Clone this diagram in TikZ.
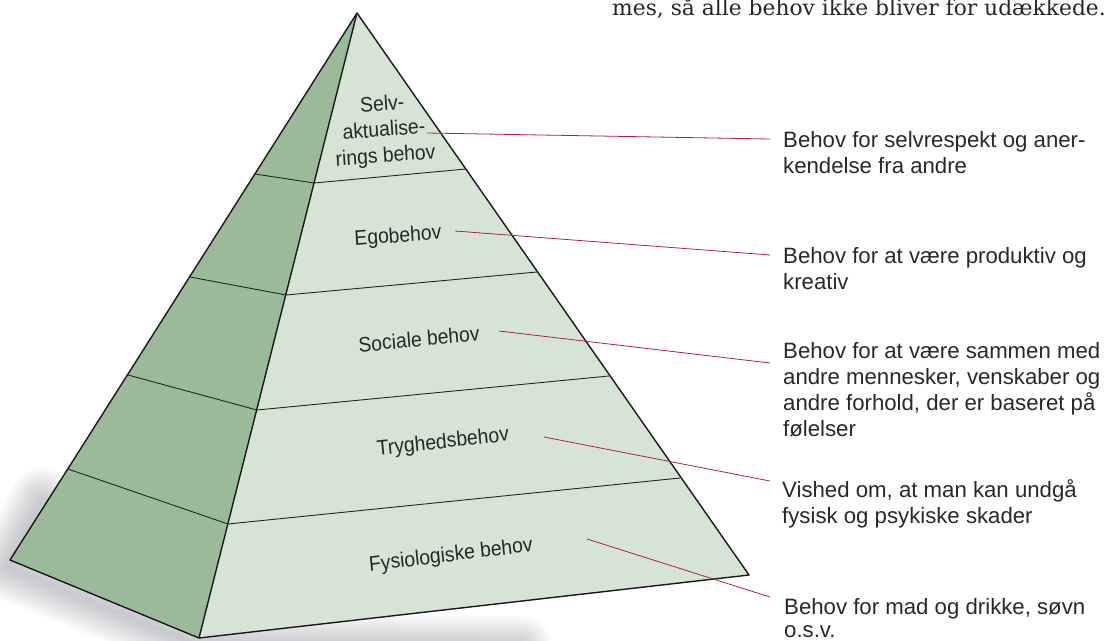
\documentclass[tikz,border=0pt]{standalone}
\usepackage{fontspec}
\setmainfont{DejaVu Serif}
\newfontfamily\labelfont{Liberation Sans}
\definecolor{sideface}{RGB}{155,186,153}
\definecolor{frontface}{RGB}{214,228,213}
\definecolor{leadred}{RGB}{178,32,60}
\definecolor{txt}{RGB}{40,40,40}
\definecolor{shadowcol}{RGB}{110,112,122}

\begin{document}
\begin{tikzpicture}[x=1pt,y=-1pt,
  edge/.style={draw=black!90, line width=1.4pt, line join=round},
  tier/.style={draw=black!85, line width=0.9pt},
  lead/.style={draw=leadred, line width=0.8pt},
  tierlabel/.style={font=\labelfont\fontsize{21}{26}\selectfont, text=txt,
    align=center, inner sep=0pt, xscale=0.92},
  % anchored at the baseline of the last line
  note/.style={font=\labelfont\fontsize{22.2}{26}\selectfont, text=txt,
    align=left, anchor=base west, inner sep=0pt},
]
\clip (0,0) rectangle (1113,640);

% corners of the pyramid
\coordinate (A) at (357,13);
\coordinate (L) at (10,560);
\coordinate (M) at (199,638);
\coordinate (R) at (749,575);
% tier boundaries on the left, middle and right edges
\coordinate (l1) at (255,174); \coordinate (m1) at (314,183); \coordinate (r1) at (466,169);
\coordinate (l2) at (190,277); \coordinate (m2) at (286,295); \coordinate (r2) at (537,272);
\coordinate (l3) at (128,375); \coordinate (m3) at (257,410); \coordinate (r3) at (609,376);
\coordinate (l4) at (68,469);  \coordinate (m4) at (228,524); \coordinate (r4) at (680,478);

% soft ground shadow
\foreach \w in {4,9,...,64}
  \draw[shadowcol, opacity=0.035, line width=\w pt, line cap=round, line join=round]
    (42,500) -- (7,567) -- (200,646) -- (520,648);

% faces
\fill[sideface] (A) -- (L) -- (M) -- cycle;
\fill[frontface] (A) -- (M) -- (R) -- cycle;

% tier lines
\draw[tier] (l1) -- (m1) -- (r1);
\draw[tier] (l2) -- (m2) -- (r2);
\draw[tier] (l3) -- (m3) -- (r3);
\draw[tier] (l4) -- (m4) -- (r4);

% outline
\draw[edge] (A) -- (L) -- (M) -- (R) -- cycle;
\draw[edge] (A) -- (M);

% tier labels
\node[tierlabel, rotate=4] (t5) at (384,131) {Selv-\\aktualise-\\rings behov};
\node[tierlabel, rotate=4] (t4) at (398,237) {Egobehov};
\node[tierlabel, rotate=5] (t3) at (419,339) {Sociale behov};
\node[tierlabel, rotate=6] (t2) at (443,443) {Tryghedsbehov};
\node[tierlabel, rotate=6.5] (t1) at (451,556) {Fysiologiske behov};

% explanations
\node[note] (n5) at (783,173) {Behov for selvrespekt og aner-\\kendelse fra andre};
\node[note] (n4) at (783,289) {Behov for at være produktiv og\\kreativ};
\node[note] (n3) at (783,436) {Behov for at være sammen med\\andre mennesker, venskaber og\\andre forhold, der er baseret på\\følelser};
\node[note] (n2) at (782,523) {Vished om, at man kan undgå\\fysisk og psykiske skader};
\node[note] (n1) at (784,637) {Behov for mad og drikke, søvn\\[-3pt]o.s.v.};

% leader lines
\coordinate (s5) at (427,133); \coordinate (e5) at (770,139);
\coordinate (s4) at (455,231); \coordinate (e4) at (770,255);
\coordinate (s3) at (499,331); \coordinate (e3) at (770,363);
\coordinate (s2) at (544,437); \coordinate (e2) at (770,481);
\coordinate (s1) at (587,539); \coordinate (e1) at (770,597);
\draw[lead] (s5) -- (e5);
\draw[lead] (s4) -- (e4);
\draw[lead] (s3) -- (e3);
\draw[lead] (s2) -- (e2);
\draw[lead] (s1) -- (e1);

% running text above
\node[anchor=base west, inner sep=0pt, text=black!85, font=\fontsize{21.8}{26}\selectfont]
  (body) at (612,15) {mes, så alle behov ikke bliver for udækkede.};
\end{tikzpicture}
\end{document}
